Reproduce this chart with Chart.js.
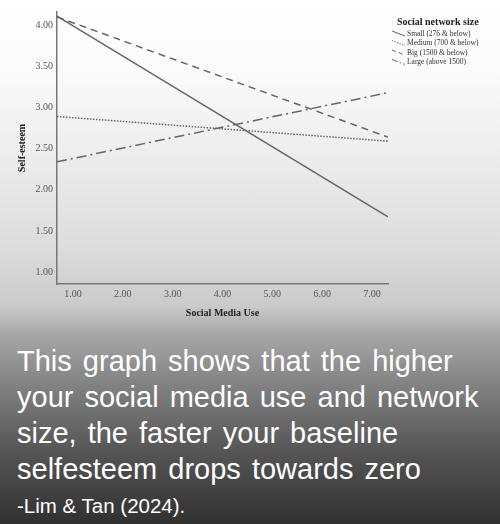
<!DOCTYPE html>
<html>
<head>
<meta charset="utf-8">
<script src="https://cdn.jsdelivr.net/npm/chart.js@4"></script>
<style>
  html, body { margin: 0; padding: 0; }
  body {
    width: 500px; height: 524px; overflow: hidden;
    background: linear-gradient(to bottom, #ffffff 0px, #fbfbfb 70px, #ececec 160px, #dcdcdc 250px, #cbcbcb 305px, #a6a6a6 335px, #7e7e7e 390px, #565656 450px, #313131 524px);
  }
  #wrap { position: relative; width: 500px; height: 524px; }
  #chartBox { position: absolute; left: 0; top: 0; width: 500px; height: 330px; }
  .caption {
    position: absolute; left: 17px; color: #fff;
    font-family: "Liberation Sans", Arial, sans-serif; white-space: nowrap;
  }
  #mainText { top: 343px; font-size: 29px; line-height: 36px; word-spacing: 3px; }
  #cite { top: 494px; font-size: 20.5px; line-height: 24px; }
</style>
</head>
<body>
<div id="wrap">
  <div id="chartBox"><canvas id="chart"></canvas></div>
  <div class="caption" id="mainText">This graph shows that the higher<br>your social media use and network<br>size, the faster your baseline<br>selfesteem drops towards zero</div>
  <div class="caption" id="cite">-Lim &amp; Tan (2024).</div>
</div>
<script>
// fitted lines, start and end of the observed range
const socialMediaUse = [0.68, 7.32];
const smallNet = [4.11, 1.67];
const mediumNet = [2.89, 2.59];
const bigNet = [4.10, 2.64];
const largeNet = [2.34, 3.18];

const seriesNames = ['Small (276 & below)', 'Medium (700 & below)', 'Big (1500 & below)', 'Large (above 1500)'];
const xTicks = [1, 2, 3, 4, 5, 6, 7];
const yTicks = [1.0, 1.5, 2.0, 2.5, 3.0, 3.5, 4.0];

const lineColor = '#666666';
const dashes = [[], [1.5, 1.5], [7, 5], [10, 4, 2, 4]];
const serif = '"Liberation Serif", "Times New Roman", serif';

function makeSet(label, vals, i) {
    return {
        label: label,
        data: vals.map((v, k) => ({ x: socialMediaUse[k], y: v })),
        borderColor: lineColor,
        borderWidth: 1.5,
        borderDash: dashes[i],
        pointRadius: 0,
        fill: false
    };
}

// legend drawn by hand, SPSS style with slanted samples
const legendPlugin = {
    id: 'spssLegend',
    afterDraw(chart) {
        const ctx = chart.ctx;
        ctx.save();
        ctx.fillStyle = '#222';
        ctx.font = 'bold 10px ' + serif;
        ctx.textBaseline = 'middle';
        ctx.fillText('Social network size', 397, 22);

        ctx.font = '7.5px ' + serif;
        ctx.fillStyle = '#333';
        seriesNames.forEach((name, i) => {
            const y = 34 + i * 9.5;
            ctx.strokeStyle = lineColor;
            ctx.lineWidth = 1;
            ctx.setLineDash(dashes[i].map(d => d * 0.6));
            ctx.beginPath();
            ctx.moveTo(392, y - 3);
            ctx.lineTo(405, y + 2);
            ctx.stroke();
            ctx.setLineDash([]);
            ctx.fillText(name, 407, y);
        });
        ctx.restore();
    }
};

new Chart(document.getElementById('chart'), {
    type: 'line',
    data: {
        datasets: [
            makeSet(seriesNames[0], smallNet, 0),
            makeSet(seriesNames[1], mediumNet, 1),
            makeSet(seriesNames[2], bigNet, 2),
            makeSet(seriesNames[3], largeNet, 3)
        ]
    },
    options: {
        responsive: true,
        maintainAspectRatio: false,
        animation: false,
        layout: { padding: { left: 0, right: 112, top: 12, bottom: 0 } },
        plugins: {
            legend: { display: false },
            tooltip: { enabled: false }
        },
        scales: {
            x: {
                type: 'linear',
                min: 0.68,
                max: 7.32,
                afterBuildTicks: s => { s.ticks = xTicks.map(v => ({ value: v })); },
                afterFit: s => { s.height = 46; },
                grid: { display: false, drawTicks: false },
                border: { display: true, color: '#777', width: 1.5 },
                ticks: {
                    color: '#555',
                    font: { family: serif, size: 10 },
                    padding: 4,
                    maxRotation: 0,
                    callback: v => v.toFixed(2)
                },
                title: {
                    display: true,
                    text: 'Social Media Use',
                    color: '#222',
                    font: { family: serif, size: 10, weight: 'bold' },
                    padding: { top: 0, bottom: 11 }
                }
            },
            y: {
                min: 0.855,
                max: 4.16,
                afterBuildTicks: s => { s.ticks = yTicks.map(v => ({ value: v })); },
                afterFit: s => { s.width = 57; },
                grid: { display: false, drawTicks: false },
                border: { display: true, color: '#777', width: 1.5 },
                ticks: {
                    color: '#555',
                    font: { family: serif, size: 10 },
                    padding: 4,
                    callback: v => v.toFixed(2)
                },
                title: {
                    display: true,
                    text: 'Self-esteem',
                    color: '#222',
                    font: { family: serif, size: 10, weight: 'bold' },
                    padding: { top: 16, bottom: 0 }
                }
            }
        }
    },
    plugins: [legendPlugin]
});
</script>
</body>
</html>
